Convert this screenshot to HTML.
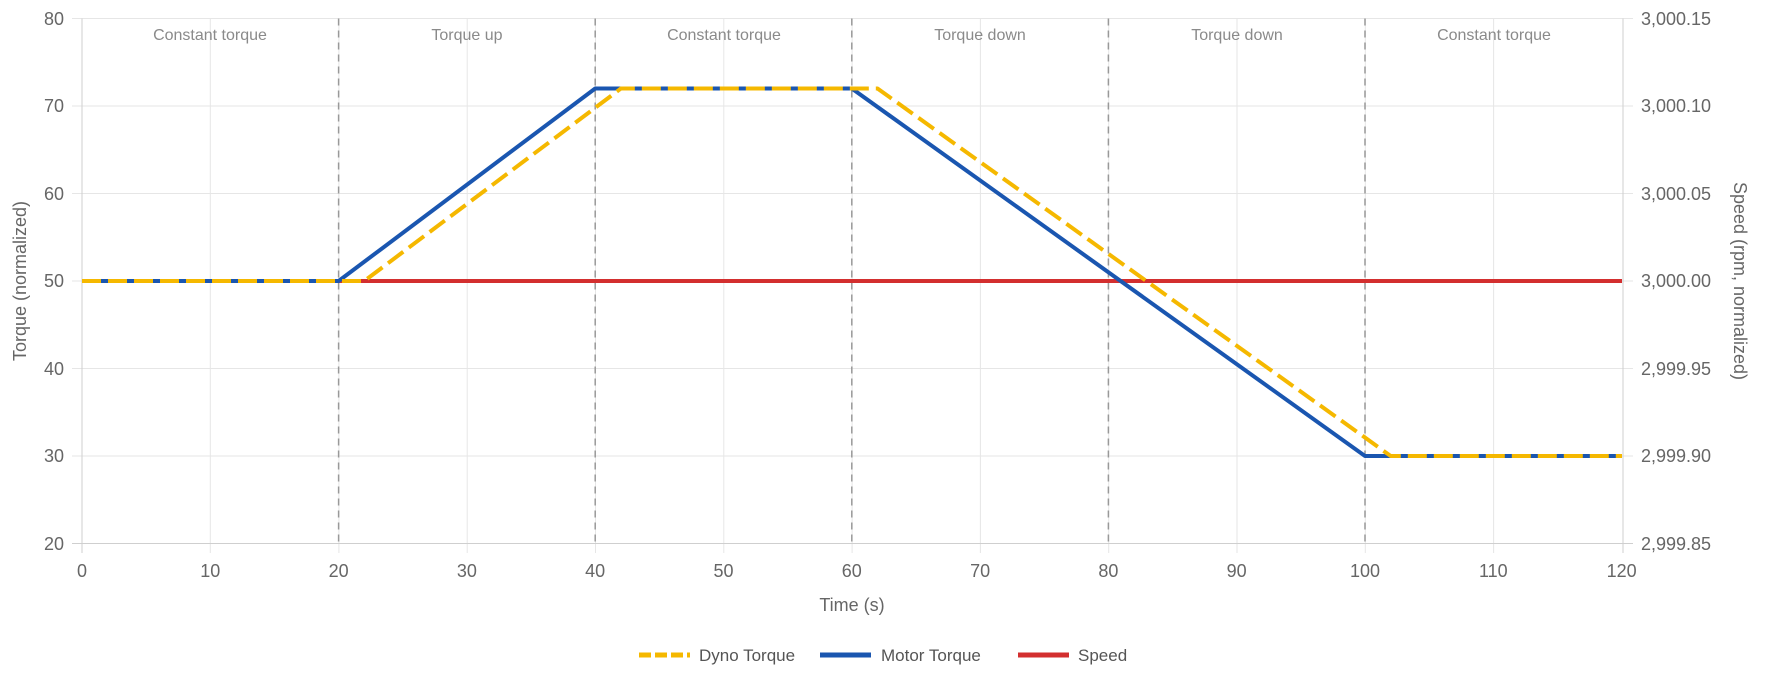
<!DOCTYPE html>
<html><head><meta charset="utf-8"><style>
html,body{margin:0;padding:0;background:#fff;}
svg{display:block;font-family:"Liberation Sans",Arial,sans-serif;}
</style></head><body>
<svg width="1765" height="684" viewBox="0 0 1765 684" xmlns="http://www.w3.org/2000/svg">
<g stroke="#e6e6e6" stroke-width="1">
<line x1="72" y1="18.5" x2="1633" y2="18.5"/>
<line x1="72" y1="106" x2="1633" y2="106"/>
<line x1="72" y1="193.5" x2="1633" y2="193.5"/>
<line x1="72" y1="281" x2="1633" y2="281"/>
<line x1="72" y1="368.5" x2="1633" y2="368.5"/>
<line x1="72" y1="456" x2="1633" y2="456"/>
<line x1="210.3" y1="18.5" x2="210.3" y2="553"/>
<line x1="338.9" y1="18.5" x2="338.9" y2="553"/>
<line x1="467.2" y1="18.5" x2="467.2" y2="553"/>
<line x1="595.5" y1="18.5" x2="595.5" y2="553"/>
<line x1="723.8" y1="18.5" x2="723.8" y2="553"/>
<line x1="852.1" y1="18.5" x2="852.1" y2="553"/>
<line x1="980.4" y1="18.5" x2="980.4" y2="553"/>
<line x1="1108.7" y1="18.5" x2="1108.7" y2="553"/>
<line x1="1237" y1="18.5" x2="1237" y2="553"/>
<line x1="1365.3" y1="18.5" x2="1365.3" y2="553"/>
<line x1="1493.6" y1="18.5" x2="1493.6" y2="553"/>
</g>
<g stroke="#cfcfcf" stroke-width="1">
<line x1="82" y1="18.5" x2="82" y2="553"/>
<line x1="1623" y1="18.5" x2="1623" y2="553"/>
<line x1="72" y1="543.5" x2="1633" y2="543.5"/>
</g>
<g stroke="#999" stroke-width="1.5" stroke-dasharray="7,5">
<line x1="338.6" y1="18.5" x2="338.6" y2="543.5"/>
<line x1="595.2" y1="18.5" x2="595.2" y2="543.5"/>
<line x1="851.8" y1="18.5" x2="851.8" y2="543.5"/>
<line x1="1108.4" y1="18.5" x2="1108.4" y2="543.5"/>
<line x1="1365" y1="18.5" x2="1365" y2="543.5"/>
</g>
<g fill="#8a8a8a" font-size="16" text-anchor="middle">
<text x="210" y="40">Constant torque</text>
<text x="467" y="40">Torque up</text>
<text x="724" y="40">Constant torque</text>
<text x="980" y="40">Torque down</text>
<text x="1237" y="40">Torque down</text>
<text x="1494" y="40">Constant torque</text>
</g>
<g fill="#666" font-size="18" text-anchor="end">
<text x="64" y="25">80</text>
<text x="64" y="112">70</text>
<text x="64" y="200">60</text>
<text x="64" y="287">50</text>
<text x="64" y="375">40</text>
<text x="64" y="462">30</text>
<text x="64" y="550">20</text>
</g>
<g fill="#666" font-size="18" text-anchor="start">
<text x="1641" y="25">3,000.15</text>
<text x="1641" y="112">3,000.10</text>
<text x="1641" y="200">3,000.05</text>
<text x="1641" y="287">3,000.00</text>
<text x="1641" y="375">2,999.95</text>
<text x="1641" y="462">2,999.90</text>
<text x="1641" y="550">2,999.85</text>
</g>
<g fill="#666" font-size="18" text-anchor="middle">
<text x="82" y="577">0</text>
<text x="210.3" y="577">10</text>
<text x="338.6" y="577">20</text>
<text x="466.9" y="577">30</text>
<text x="595.2" y="577">40</text>
<text x="723.5" y="577">50</text>
<text x="851.8" y="577">60</text>
<text x="980.1" y="577">70</text>
<text x="1108.4" y="577">80</text>
<text x="1236.7" y="577">90</text>
<text x="1365" y="577">100</text>
<text x="1493.3" y="577">110</text>
<text x="1621.6" y="577">120</text>
<text x="852" y="611">Time (s)</text>
</g>
<text fill="#666" font-size="18" text-anchor="middle" transform="translate(26,281) rotate(-90)">Torque (normalized)</text>
<text fill="#666" font-size="18" text-anchor="middle" transform="translate(1734,281) rotate(90)">Speed (rpm, normalized)</text>
<line x1="82" y1="281" x2="1622" y2="281" stroke="#d32f2f" stroke-width="4"/>
<polyline fill="none" stroke="#1a56b0" stroke-width="4" stroke-linejoin="round" points="82,281 338.6,281 595.2,88.5 851.8,88.5 1365,456 1622,456"/>
<polyline fill="none" stroke="#f5b800" stroke-width="4" stroke-dasharray="19,7" stroke-linejoin="round" points="82,281 364.3,281 620.9,88.5 877.5,88.5 1390.7,456 1622,456"/>
<g font-size="17" fill="#555">
<line x1="639" y1="655" x2="690" y2="655" stroke="#f5b800" stroke-width="5" stroke-dasharray="12,4"/>
<text x="699" y="661">Dyno Torque</text>
<line x1="820" y1="655" x2="871" y2="655" stroke="#1a56b0" stroke-width="5"/>
<text x="881" y="661">Motor Torque</text>
<line x1="1018" y1="655" x2="1069" y2="655" stroke="#d32f2f" stroke-width="5"/>
<text x="1078" y="661">Speed</text>
</g>
</svg>
</body></html>
